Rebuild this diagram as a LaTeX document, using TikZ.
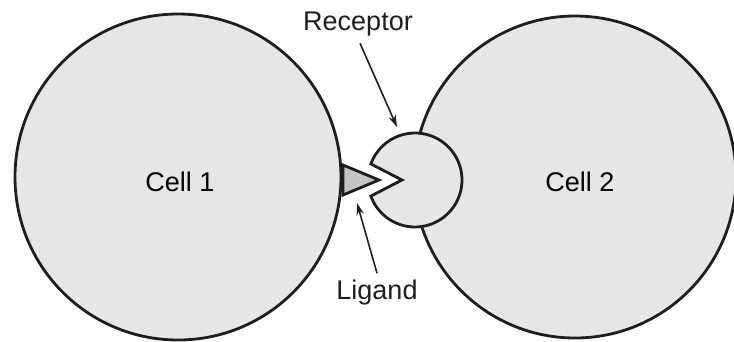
\documentclass[tikz,border=0pt]{standalone}
\usepackage{fontspec}
\setmainfont{Liberation Sans}
\usepackage{tikz}
\usetikzlibrary{arrows.meta,positioning,calc}
\definecolor{cellfill}{HTML}{E6E6E6}
\definecolor{ligfill}{HTML}{C4C4C4}
\definecolor{cellink}{HTML}{1E1E1E}

\begin{document}
\begin{tikzpicture}[
  x=1pt, y=-1pt,
  font=\fontsize{27}{32}\selectfont, >={Stealth[length=12pt,width=7.5pt]},
  cell/.style={circle, draw=cellink, fill=cellfill, line width=2.8pt, inner sep=0pt},
  part/.style={draw=cellink, line width=2.8pt, line join=miter},
  lbl/.style={inner sep=1pt, text=cellink},
  pointer/.style={->, line width=1.6pt, cellink},
]
  \useasboundingbox (0,0) rectangle (734,341);
  \node[cell, minimum size=326pt] (cell1) at (178,177) {};
  \node[cell, minimum size=322pt] (cell2) at (575,177) {};
  \node at (180,182) (t1) {Cell 1};
  \node at (580,182) (t2) {Cell 2};
  % receptor with its notch
  \coordinate (rc) at (415,180);
  \coordinate (notch) at (402,180);
  \draw[part, fill=cellfill] (notch) -- ($(rc)+(160:47)$) arc[start angle=160, end angle=-160, radius=47] -- cycle;
  % ligand on cell 1
  \coordinate (lg1) at (343,165);
  \coordinate (lg2) at (343,195);
  \coordinate (lgtip) at (379,180);
  \draw[part, fill=ligfill] (lg1) -- (lgtip) -- (lg2) -- cycle;
  \node[lbl] (rec) at (358,24) {Receptor};
  \node[lbl] (lig) at (377,293) {Ligand};
  \coordinate (rec-end) at (397,127);
  \coordinate (lig-end) at (357,203);
  \draw[pointer] (rec.south) ++(2,6) -- (rec-end);
  \draw[pointer] (lig.north) ++(0,-6) -- (lig-end);
\end{tikzpicture}
\end{document}
